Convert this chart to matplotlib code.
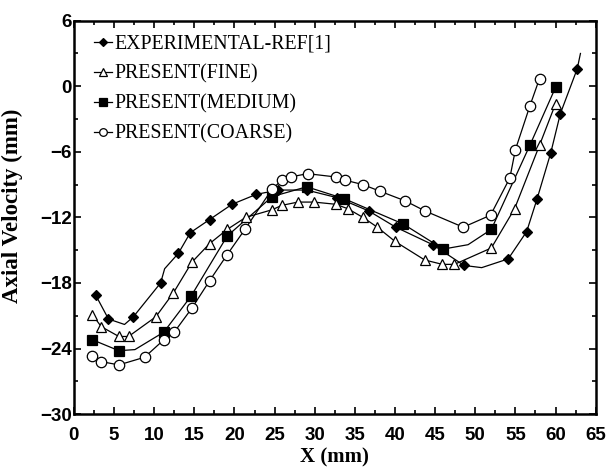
import numpy as np
import matplotlib
matplotlib.use("Agg")
import matplotlib.pyplot as plt
from matplotlib.ticker import MultipleLocator

# values
exp_x = [2.7, 4.3, 7.4, 10.8, 13.0, 14.5, 16.9, 19.7, 22.7, 25.4, 29.0, 32.8,
         36.7, 40.1, 44.7, 48.6, 54.1, 56.4, 57.7, 59.4, 60.6, 62.7]
exp_y = [-19.1, -21.3, -21.1, -18.0, -15.3, -13.4, -12.2, -10.8, -9.9, -9.5,
         -9.5, -10.2, -11.4, -12.9, -14.5, -16.4, -15.8, -13.3, -10.3, -6.1,
         -2.5, 1.6]
# bends of the drawn curve that carry no marker
exp_bend_x = [6.3, 11.3, 50.8, 63.1]
exp_bend_y = [-21.8, -16.7, -16.6, 3.0]

fine_x = [2.3, 3.4, 5.6, 6.8, 10.2, 12.4, 14.7, 16.9, 19.1, 21.4, 24.7, 25.9,
          27.9, 29.9, 32.6, 34.1, 36.0, 37.8, 40.0, 43.7, 45.9, 47.4, 52.0,
          54.9, 58.0, 60.0]
fine_y = [-20.9, -22.0, -22.9, -22.9, -21.1, -18.9, -16.1, -14.4, -13.1, -12.0,
          -11.3, -10.9, -10.6, -10.6, -10.8, -11.2, -12.0, -12.9, -14.2, -15.9,
          -16.3, -16.3, -14.8, -11.2, -5.4, -1.6]

medium_x = [2.3, 5.6, 11.2, 14.6, 19.1, 24.7, 29.0, 33.7, 41.0, 46.0, 52.0,
            56.8, 60.0]
medium_y = [-23.2, -24.2, -22.5, -19.2, -13.7, -10.1, -9.2, -10.3, -12.6, -14.9,
            -13.1, -5.4, -0.1]
medium_bend_x = [7.6, 49.1]
medium_bend_y = [-24.1, -14.5]

coarse_x = [2.3, 3.4, 5.6, 8.8, 11.2, 12.5, 14.7, 16.9, 19.1, 21.3, 24.7, 25.9,
            27.0, 29.1, 32.6, 33.8, 36.0, 38.1, 41.3, 43.7, 48.5, 51.9, 54.3,
            55.0, 56.8, 58.0]
coarse_y = [-24.7, -25.2, -25.5, -24.8, -23.2, -22.5, -20.3, -17.8, -15.4, -13.1,
            -9.4, -8.6, -8.3, -8.0, -8.3, -8.6, -9.0, -9.6, -10.5, -11.4, -12.9,
            -11.8, -8.4, -5.8, -1.8, 0.7]

labels = ["EXPERIMENTAL-REF[1]", "PRESENT(FINE)", "PRESENT(MEDIUM)",
          "PRESENT(COARSE)"]


def curve(xs, ys, bx=(), by=()):
    # join markers and unmarked bends into one path, ordered by x
    pts = sorted(zip(list(xs) + list(bx), list(ys) + list(by)))
    return [p[0] for p in pts], [p[1] for p in pts]


fig = plt.figure(figsize=(6.06, 4.70), dpi=100)
ax = fig.add_axes([0.122, 0.119, 0.861, 0.837])

# (x, y, bend x, bend y, marker, plot size, legend size, face)
series = [
    (exp_x, exp_y, exp_bend_x, exp_bend_y, "D", 4.8, 3.6, "black"),
    (fine_x, fine_y, [], [], "^", 7, 5.2, "white"),
    (medium_x, medium_y, medium_bend_x, medium_bend_y, "s", 7.5, 5.5, "black"),
    (coarse_x, coarse_y, [], [], "o", 7.5, 5.5, "white"),
]

handles = []
for (xs, ys, bx, by, mk, ms, lms, face), lab in zip(series, labels):
    cx, cy = curve(xs, ys, bx, by)
    ax.plot(cx, cy, color="black", lw=0.9, zorder=2)
    ax.plot(xs, ys, ls="none", marker=mk, ms=ms, mfc=face, mec="black",
            mew=0.9, zorder=3)
    h, = ax.plot([], [], color="black", lw=0.9, marker=mk, ms=lms, mfc=face,
                 mec="black", mew=0.9)
    handles.append(h)

ax.set_xlim(0, 65)
ax.set_ylim(-30, 6)
ax.xaxis.set_major_locator(MultipleLocator(5))
ax.xaxis.set_minor_locator(MultipleLocator(2.5))
ax.yaxis.set_major_locator(MultipleLocator(6))
ax.yaxis.set_minor_locator(MultipleLocator(3))
ax.tick_params(which="both", direction="in", top=True, right=True, width=1.2)
ax.tick_params(which="major", length=5, labelsize=13.5)
ax.tick_params(axis="x", which="major", pad=9)
ax.tick_params(axis="y", which="major", pad=1.5)
ax.tick_params(which="minor", length=3)
for lbl in ax.get_xticklabels() + ax.get_yticklabels():
    lbl.set_fontfamily("Liberation Sans")
    lbl.set_fontweight("bold")
for sp in ax.spines.values():
    sp.set_linewidth(1.8)

ax.set_xlabel("X (mm)", fontfamily="Liberation Serif", fontweight="bold",
              fontsize=15, labelpad=3)
ax.set_ylabel("Axial Velocity (mm)", fontfamily="Liberation Serif",
              fontweight="bold", fontsize=16.5)
ax.yaxis.set_label_coords(-0.098, 0.53)

ax.legend(handles, labels, loc="upper left", bbox_to_anchor=(0.02, 0.99),
          frameon=False, prop={"family": "Liberation Serif", "size": 14.3},
          handlelength=0.9, handletextpad=0.1, labelspacing=0.54,
          borderaxespad=0.1)

fig.savefig("out.png", dpi=100)
